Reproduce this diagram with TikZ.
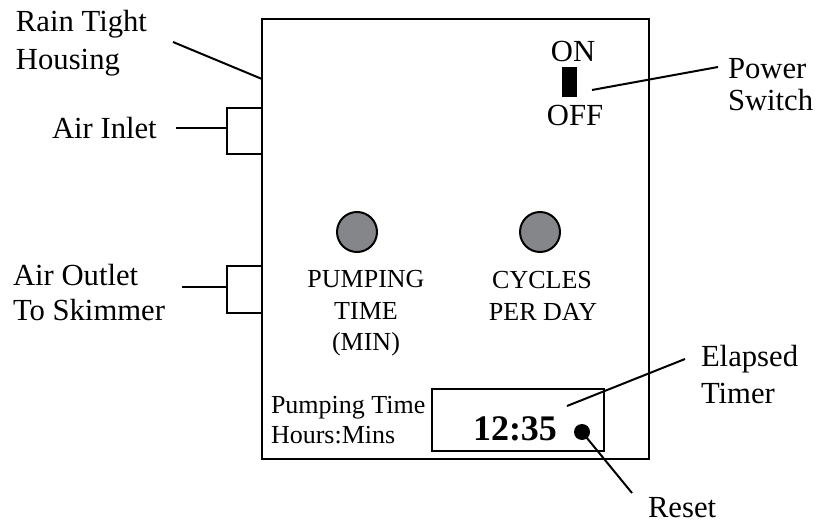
\documentclass[tikz,border=0pt]{standalone}
\usepackage{fontspec}
\setmainfont{Liberation Serif}
\begin{document}
\begin{tikzpicture}[x=0.75pt,y=-0.75pt,
  box/.style={draw=black,line width=1.7pt,rectangle,inner sep=0pt,outer sep=0pt},
  lead/.style={draw=black,line width=1.5pt},
  lbl/.style={inner sep=0pt,outer sep=0pt,font=\fontsize{23}{27}\selectfont},
  pnl/.style={inner sep=0pt,outer sep=0pt,font=\fontsize{19.5}{23}\selectfont},
  knob/.style={draw=black,line width=1.5pt,circle,fill=knobgray,minimum size=30pt,inner sep=0pt}]
\definecolor{knobgray}{HTML}{858689}
\useasboundingbox (0,0) rectangle (825,524);
% housing and ports
\node[box,minimum width=290.25pt,minimum height=330pt] (housing) at (455.5,239) {};
\node[box,minimum width=26.25pt,minimum height=34.5pt] (inlet) at (244.5,131) {};
\node[box,minimum width=26.25pt,minimum height=35.25pt] (outlet) at (244.5,289.5) {};
% switch
\node[rectangle,fill=black,minimum width=11.25pt,minimum height=22.5pt,inner sep=0pt] (switch) at (569.5,82) {};
\node[lbl,anchor=base] (on) at (573,62) {ON};
\node[lbl,anchor=base] (off) at (575,126) {OFF};
% knobs
\node[knob] (knob1) at (357,232) {};
\node[knob] (knob2) at (540,232) {};
\node[pnl,anchor=base] (pt1) at (366,287) {PUMPING};
\node[pnl,anchor=base] (pt2) at (366,319) {TIME};
\node[pnl,anchor=base] (pt3) at (366,350) {(MIN)};
\node[pnl,anchor=base] (cy1) at (542,288) {CYCLES};
\node[pnl,anchor=base] (cy2) at (543,320) {PER DAY};
% timer
\node[box,minimum width=129pt,minimum height=46.5pt] (timer) at (518,420) {};
\node[inner sep=0pt,anchor=base,font=\fontsize{27}{30}\selectfont\bfseries] (time) at (515,440) {12:35};
\node[circle,fill=black,minimum size=12pt,inner sep=0pt] (reset) at (582,432) {};
\node[pnl,anchor=base west] (ph1) at (271,413) {Pumping Time};
\node[pnl,anchor=base west] (ph2) at (271,443) {Hours:Mins};
% labels
\node[lbl,anchor=base west] (rain1) at (16,32) {Rain Tight};
\node[lbl,anchor=base west] (rain2) at (16,70) {Housing};
\node[lbl,anchor=base west] (inl) at (52,139) {Air Inlet};
\node[lbl,anchor=base west] (out1) at (13,285) {Air Outlet};
\node[lbl,anchor=base west] (out2) at (13,320) {To Skimmer};
\node[lbl,anchor=base west] (pw1) at (728,79) {Power};
\node[lbl,anchor=base west] (pw2) at (728,111) {Switch};
\node[lbl,anchor=base west] (el1) at (701,366) {Elapsed};
\node[lbl,anchor=base west] (el2) at (701,403) {Timer};
\node[lbl,anchor=base west] (rs) at (648,517) {Reset};
% leader end points
\coordinate (rainA) at (173,42);
\coordinate (rainB) at (262,79);
\coordinate (inA) at (176,128);
\coordinate (inB) at (227,128);
\coordinate (outA) at (182,287);
\coordinate (outB) at (227,287);
\coordinate (pwA) at (718,67);
\coordinate (pwB) at (592,90);
\coordinate (elA) at (685,359);
\coordinate (elB) at (567,406);
\coordinate (rsA) at (632,493);
% leaders
\draw[lead] (rainA) -- (rainB);
\draw[lead] (inA) -- (inB);
\draw[lead] (outA) -- (outB);
\draw[lead] (pwA) -- (pwB);
\draw[lead] (elA) -- (elB);
\draw[lead] (rsA) -- (reset.center);
\end{tikzpicture}
\end{document}
